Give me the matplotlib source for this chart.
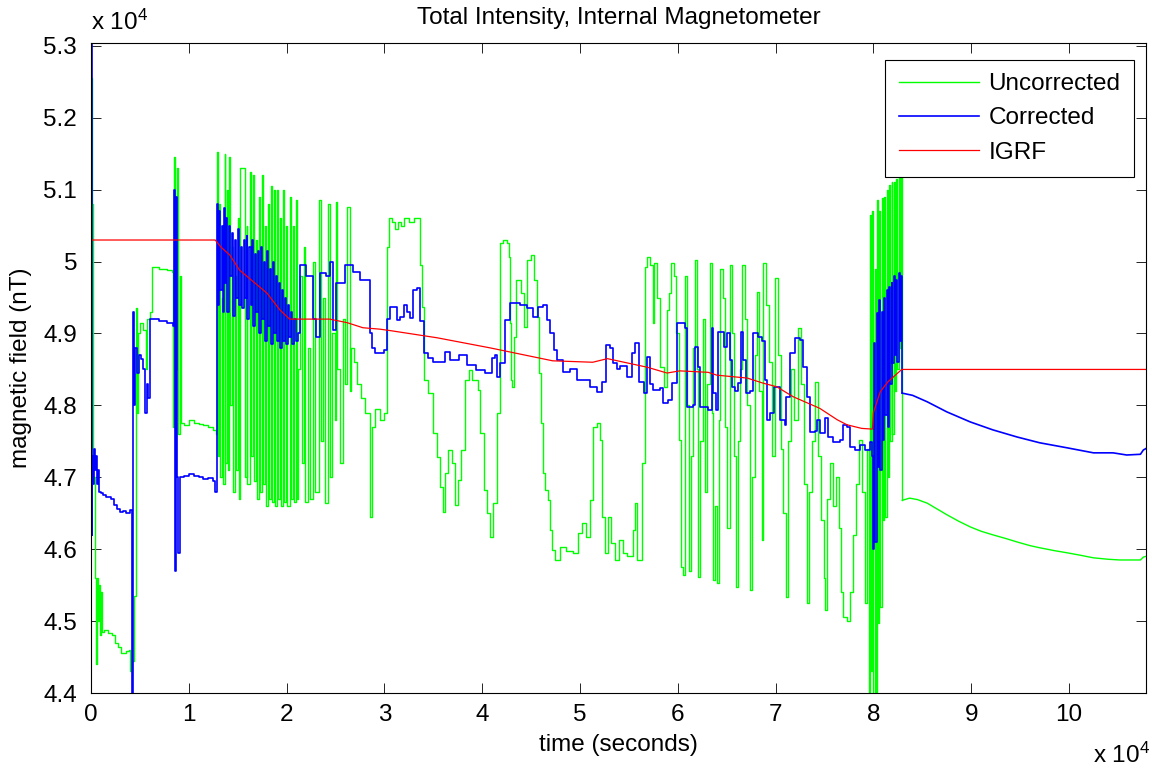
import matplotlib
matplotlib.use('Agg')
import matplotlib.pyplot as plt
import numpy as np
from matplotlib.ticker import FuncFormatter, MultipleLocator

plt.rcParams['font.family'] = ['Liberation Sans', 'DejaVu Sans']
plt.rcParams['mathtext.fontset'] = 'custom'
plt.rcParams['mathtext.rm'] = 'Liberation Sans'
plt.rcParams['mathtext.it'] = 'Liberation Sans:italic'

# time in units of 1e4 seconds, field in nT
green_t = [
    0.000, 0.004, 0.010, 0.016, 0.040, 0.050, 0.058, 0.068,
    0.078, 0.088, 0.098, 0.110, 0.130, 0.170, 0.210, 0.250,
    0.280, 0.310, 0.360, 0.390, 0.400, 0.420, 0.440, 0.455,
    0.465, 0.470, 0.480, 0.500, 0.530, 0.560, 0.570, 0.600,
    0.620, 0.700, 0.780, 0.830, 0.840, 0.850, 0.860, 0.875,
    0.890, 0.905, 0.920, 0.950, 1.000, 1.050, 1.100, 1.150,
    1.200, 1.250, 1.280,
    1.285, 1.295, 1.310, 1.320, 1.335, 1.350, 1.365, 1.375,
    1.390, 1.400, 1.415, 1.425, 1.440, 1.450, 1.470, 1.480,
    1.500, 1.510, 1.520, 1.575, 1.590, 1.600, 1.625, 1.640,
    1.655, 1.670, 1.690, 1.700, 1.720, 1.730, 1.745, 1.755,
    1.775, 1.790, 1.810, 1.820, 1.845, 1.855, 1.870, 1.880,
    1.900, 1.910, 1.930, 1.940, 1.965, 1.975, 1.990, 2.000,
    2.035, 2.045, 2.070, 2.080, 2.100, 2.110,
    2.120, 2.140, 2.160, 2.180, 2.190, 2.220, 2.240, 2.270,
    2.290, 2.330, 2.350, 2.370, 2.390, 2.420, 2.440, 2.460,
    2.490, 2.500, 2.520, 2.550, 2.580, 2.600, 2.620, 2.645,
    2.660, 2.690, 2.720, 2.760, 2.800, 2.850, 2.870, 2.900,
    2.950, 3.000, 3.030, 3.050, 3.080, 3.110, 3.140, 3.170,
    3.200, 3.250, 3.300,
    3.360, 3.380, 3.400, 3.450, 3.500, 3.540, 3.570, 3.600,
    3.620, 3.650, 3.690, 3.720, 3.750, 3.780, 3.820, 3.860,
    3.900, 3.960, 3.980, 4.020, 4.050, 4.080, 4.110, 4.150,
    4.180, 4.210, 4.250, 4.270, 4.280, 4.290, 4.300, 4.320,
    4.350, 4.400, 4.430, 4.460, 4.500, 4.530, 4.560, 4.580,
    4.600, 4.620, 4.640, 4.670, 4.690, 4.710, 4.740, 4.800,
    4.860, 4.930, 4.980, 5.020, 5.060, 5.100, 5.130, 5.170,
    5.200, 5.220, 5.260, 5.290, 5.320, 5.360, 5.400, 5.440,
    5.480, 5.540, 5.560, 5.580, 5.630, 5.660, 5.690, 5.720,
    5.745, 5.760, 5.790, 5.820, 5.860, 5.890, 5.910, 5.930,
    5.960, 5.980, 6.010, 6.030,
    6.050, 6.070, 6.090, 6.110, 6.130, 6.160, 6.180, 6.200,
    6.210, 6.230, 6.260, 6.280, 6.300, 6.330, 6.350, 6.360,
    6.380, 6.400, 6.420, 6.430, 6.460, 6.480, 6.500, 6.530,
    6.550, 6.570, 6.600, 6.620, 6.640, 6.660, 6.690, 6.710,
    6.740, 6.760, 6.790, 6.810, 6.830, 6.860, 6.870, 6.900,
    6.930, 6.960, 6.990, 7.020, 7.050, 7.080, 7.110, 7.130,
    7.160, 7.190, 7.230, 7.260, 7.290, 7.320, 7.340, 7.370,
    7.400, 7.430, 7.460, 7.490, 7.510, 7.530, 7.560, 7.590,
    7.620, 7.650, 7.670, 7.690, 7.730, 7.760, 7.790, 7.820,
    7.850, 7.880, 7.910, 7.930,
    7.950, 7.965, 7.975, 7.990, 8.000, 8.015, 8.025, 8.040,
    8.050, 8.060, 8.070, 8.085, 8.095, 8.110, 8.120, 8.135,
    8.145, 8.160, 8.170, 8.185, 8.195, 8.210, 8.220, 8.235,
    8.245, 8.260, 8.270, 8.285, 8.295,
    8.370, 8.450, 8.550, 8.650, 8.750, 8.870, 8.990, 9.100,
    9.220, 9.350, 9.470, 9.600, 9.700, 9.850, 9.980, 10.100,
    10.250, 10.400, 10.520, 10.650, 10.730, 10.760, 10.787,
]
green_b = [
    51000, 52550, 50800, 47000, 45600, 44400, 45600, 45000,
    45500, 44800, 45400, 44850, 44870, 44830, 44800, 44700,
    44640, 44560, 44580, 44600, 44300, 44450, 45350, 45400,
    49350, 47900, 49000, 49150, 49050, 48500, 49200, 49300,
    49930, 49900, 49880, 49850, 47700, 51450, 48500, 51300,
    47600, 49800, 47750, 47730, 47800, 47760, 47740, 47730,
    47700, 47660, 47600,
    51520, 47300, 50800, 47000, 49500, 46900, 51500, 47200,
    51000, 47100, 51450, 48000, 50200, 46800, 49800, 47100,
    50600, 46700, 51300, 47000, 50500, 46900, 51250, 47300,
    51200, 46950, 50300, 46700, 50900, 46800, 51200, 46900,
    50500, 46600, 50800, 46700, 51050, 46650, 51000, 46600,
    51000, 46700, 50600, 46600, 51000, 46650, 50500, 46600,
    50900, 46700, 50500, 46650, 50860, 46700,
    48500, 49800, 47200, 50200, 46650, 48800, 46700, 50000,
    46800, 50850, 47500, 49500, 46640, 50800, 47000, 49000,
    47800, 50830, 48500, 47200, 49200, 48300, 50760, 48200,
    48800, 48600, 48300, 48100, 47900, 46450, 47700, 47950,
    47800, 47900, 50200, 50600, 50550, 50450, 50550, 50500,
    50600, 50550, 50600,
    49950, 49370, 48350, 48170, 47620, 47280, 46870, 46520,
    47060, 47380, 47200, 46610, 46960, 47380, 48350, 48490,
    48350, 48210, 47620, 46820, 46500, 46170, 46640, 47890,
    50260, 50300, 50260, 50060, 49150, 48350, 48260, 48950,
    49750, 49560, 49090, 50020, 50090, 49750, 49230, 48450,
    47760, 47060, 46820, 46680, 46270, 45990, 45850, 46030,
    45970, 45950, 46230, 46360, 46170, 46680, 47700, 47760,
    47520, 46450, 45950, 46450, 46090, 45850, 46130, 45950,
    45900, 46270, 46640, 45850, 47200, 49920, 50060, 49950,
    49150, 49980, 49500, 48530, 48260, 49330, 49560, 49980,
    49800, 49000, 47520, 45750,
    45640, 49800, 48000, 45700, 47300, 48800, 50020, 48500,
    45610, 47500, 49200, 46800, 48300, 49980, 47900, 45570,
    46600, 45530, 47800, 49900, 49500, 47700, 46300, 49950,
    49000, 47300, 45470, 47500, 48500, 49950, 49200, 48000,
    45430, 47000, 48700, 49580, 48200, 46130, 49980, 49400,
    48600, 47300, 49770, 48700, 47400, 46500, 45330, 47500,
    48500, 47800, 49070, 48300, 46900, 45250, 46800, 47500,
    48330, 47300, 46400, 45600, 45150, 46700, 47200, 46600,
    47000, 46300, 45400, 45060, 45000, 45400, 46200, 46900,
    47520, 46800, 45250, 47400,
    43900, 50650, 44300, 50700, 43900, 49900, 43900, 50850,
    44970, 50700, 45200, 50880, 46400, 50900, 46450, 51000,
    47000, 51070, 47500, 51100, 47600, 51110, 48200, 51150,
    48500, 51180, 48800, 51200, 46680,
    46710, 46690, 46640, 46560, 46480, 46390, 46310, 46250,
    46200, 46150, 46100, 46050, 46020, 45980, 45950, 45920,
    45880, 45860, 45850, 45850, 45850, 45890, 45900,
]

blue_t = [
    0.000, 0.006, 0.012, 0.020, 0.030, 0.040, 0.050, 0.060,
    0.070, 0.080, 0.100, 0.120, 0.150, 0.200, 0.240, 0.270,
    0.300, 0.330, 0.360, 0.400, 0.420, 0.430, 0.440, 0.450,
    0.470, 0.490, 0.510, 0.530, 0.550, 0.570, 0.580, 0.600,
    0.700, 0.780, 0.840, 0.850, 0.860, 0.870, 0.880, 0.890,
    0.905, 0.950, 1.000, 1.050, 1.100, 1.150, 1.200, 1.250,
    1.270,
    1.285, 1.300, 1.310, 1.320, 1.335, 1.345, 1.360, 1.370,
    1.385, 1.395, 1.410, 1.420, 1.440, 1.450, 1.470, 1.480,
    1.500, 1.510, 1.530, 1.545, 1.560, 1.570, 1.590, 1.600,
    1.620, 1.635, 1.650, 1.660, 1.680, 1.690, 1.710, 1.720,
    1.740, 1.750, 1.770, 1.780, 1.800, 1.810, 1.830, 1.840,
    1.860, 1.870, 1.890, 1.900, 1.920, 1.930, 1.950, 1.960,
    1.980, 1.990, 2.010, 2.020, 2.040, 2.060, 2.080, 2.100,
    2.120, 2.140, 2.200, 2.270, 2.300, 2.340, 2.400, 2.440,
    2.470, 2.500, 2.600, 2.680, 2.750, 2.820, 2.850, 2.870,
    2.900, 3.000, 3.030, 3.060, 3.100, 3.130, 3.160, 3.200,
    3.230, 3.260, 3.296, 3.330, 3.364, 3.400, 3.450, 3.500,
    3.620, 3.670, 3.760, 3.840, 3.940, 4.030, 4.100, 4.130,
    4.155, 4.180, 4.230, 4.280, 4.390, 4.455, 4.520, 4.570,
    4.625, 4.660, 4.690, 4.730, 4.760, 4.830, 4.900, 4.970,
    5.030, 5.100, 5.170, 5.220, 5.270, 5.310, 5.340, 5.375,
    5.410, 5.480, 5.530, 5.560, 5.600, 5.650, 5.680, 5.715,
    5.750, 5.820, 5.850, 5.900, 5.940, 5.990,
    6.070, 6.090, 6.160, 6.180, 6.210, 6.230, 6.280, 6.310,
    6.350, 6.360, 6.390, 6.410, 6.470, 6.500, 6.530, 6.550,
    6.580, 6.620, 6.650, 6.670, 6.700, 6.740, 6.770, 6.820,
    6.860, 6.890, 6.910, 6.940, 6.980, 7.040, 7.100, 7.110,
    7.150, 7.200, 7.250, 7.280, 7.320, 7.350, 7.400, 7.420,
    7.450, 7.500, 7.540, 7.590, 7.660, 7.690, 7.730, 7.760,
    7.810, 7.860, 7.910, 7.970,
    7.990, 8.000, 8.010, 8.020, 8.035, 8.045, 8.060, 8.070,
    8.085, 8.095, 8.110, 8.120, 8.135, 8.145, 8.160, 8.170,
    8.185, 8.195, 8.210, 8.220, 8.235, 8.245, 8.260, 8.270,
    8.285, 8.295,
    8.400, 8.550, 8.750, 8.990, 9.220, 9.470, 9.700, 9.980,
    10.250, 10.450, 10.590, 10.730, 10.760, 10.787,
]
blue_b = [
    53500, 46200, 47300, 46900, 47400, 47100, 47300, 46900,
    47100, 46800, 46780, 46750, 46720, 46700, 46620, 46560,
    46520, 46530, 46500, 46550, 43900, 49300, 48000, 48800,
    48450, 48700, 48650, 48500, 47900, 48300, 48100, 49200,
    49170, 49150, 49100, 51000, 45700, 50900, 47000, 45950,
    47000, 47020, 47050, 47020, 47000, 46980, 46990, 46950,
    46800,
    50800, 49400, 50700, 49600, 50500, 49300, 50750, 49700,
    50600, 49300, 50500, 49800, 50400, 49250, 50300, 49500,
    50450, 49400, 50200, 49350, 50300, 49500, 50350, 49200,
    50200, 49400, 50300, 49100, 50100, 49300, 50150, 49000,
    50200, 49200, 50000, 48900, 50150, 49100, 49900, 48850,
    50000, 49000, 49800, 48900, 49700, 48800, 49600, 48900,
    49500, 48850, 49400, 48950, 49300, 48850, 49200, 48900,
    49000, 49950, 49800, 49200, 48950, 49840, 49800, 50000,
    49050, 49700, 49950, 49850, 49740, 49740, 49000, 48800,
    48730, 48770, 49200, 49370, 49370, 49190, 49230, 49400,
    49300, 49220, 49600, 49630, 49170, 48730, 48660, 48600,
    48740, 48630, 48700, 48560, 48490, 48450, 48660, 48700,
    48400, 48590, 49190, 49420, 49400, 49350, 49230, 49370,
    49400, 49190, 49000, 48770, 48630, 48460, 48500, 48350,
    48350, 48260, 48190, 48330, 48840, 48800, 48590, 48500,
    48550, 48400, 48730, 48870, 48330, 48170, 48670, 48300,
    48210, 48240, 48030, 48080, 48310, 49150,
    49080, 47980, 48000, 48810, 48530, 47980, 47980, 47940,
    49080, 48170, 47940, 49020, 48810, 49000, 48630, 48260,
    48200, 48310, 49020, 48630, 48170, 48200, 49000, 48950,
    48900, 48350, 47800, 47900, 48260, 47800, 47730, 48120,
    48730, 48940, 48910, 48530, 48120, 47630, 47650, 47800,
    47620, 47820, 47560, 47490, 47520, 47730, 47700, 47420,
    47380, 47450, 47380, 47490,
    47300, 46000, 48870, 46100, 49290, 47140, 49470, 47100,
    49300, 47520, 49500, 47870, 49600, 47700, 49650, 48300,
    49700, 48590, 49800, 48700, 49750, 48600, 49840, 48900,
    49800, 48170,
    48140, 48050, 47910, 47770, 47660, 47560, 47480, 47410,
    47340, 47340, 47310, 47320, 47380, 47400,
]

igrf_t = [0.00, 1.27, 1.33, 1.42, 1.52, 1.66, 1.80, 1.93, 2.03, 2.44,
          2.62, 2.78, 2.955, 3.06, 3.54, 4.08, 4.72, 5.13, 5.28, 5.69,
          5.89, 6.02, 6.31, 6.40, 6.71, 6.87, 7.01, 7.18, 7.45, 7.63,
          7.73, 7.88, 7.99, 8.00, 8.07, 8.15, 8.29, 10.787]
igrf_b = [50300, 50300, 50200, 50090, 49880, 49720, 49560, 49330, 49200, 49200,
          49150, 49080, 49060, 49040, 48940, 48800, 48620, 48600, 48650, 48530,
          48450, 48480, 48460, 48420, 48380, 48310, 48260, 48120, 47960, 47800,
          47730, 47680, 47670, 47900, 48190, 48330, 48500, 48500]

# after this time both sensor traces settle into a smooth drift
t_settle = 8.295

fs = 17.5


def draw_trace(t, b, color, lw, label):
    t = np.array(t)
    b = np.array(b)
    k = int(np.searchsorted(t, t_settle))
    ax.plot(t[:k + 1] * 1e4, b[:k + 1], color=color, lw=lw,
            drawstyle='steps-post', label=label)
    ax.plot(t[k:] * 1e4, b[k:], color=color, lw=lw)


fig = plt.figure(figsize=(11.52, 7.71), dpi=100)
ax = fig.add_axes([91 / 1152, 1 - 693 / 771, 1055 / 1152, 650 / 771])

draw_trace(green_t, green_b, '#00ff00', 1.0, 'Uncorrected')
draw_trace(blue_t, blue_b, '#0000ff', 1.2, 'Corrected')
ax.plot(np.array(igrf_t) * 1e4, igrf_b, color='#ff0000', lw=0.9, label='IGRF')

ax.set_xlim(0, 107870)
ax.set_ylim(44000, 53040)
ax.xaxis.set_major_locator(MultipleLocator(10000))
ax.yaxis.set_major_locator(MultipleLocator(1000))
fmt = FuncFormatter(lambda v, p: '%g' % round(v / 1e4, 3))
ax.xaxis.set_major_formatter(fmt)
ax.yaxis.set_major_formatter(fmt)

ax.tick_params(direction='in', top=True, right=True, length=7, width=0.6,
               labelsize=fs)
ax.tick_params(axis='x', pad=8)
ax.tick_params(axis='y', pad=10)
for s in ax.spines.values():
    s.set_linewidth(0.8)

ax.set_title('Total Intensity, Internal Magnetometer', fontsize=fs, pad=14)
ax.set_xlabel('time (seconds)', fontsize=fs, labelpad=6)
ax.set_ylabel('magnetic field (nT)', fontsize=fs, labelpad=8)

ax.text(0, 1.02, r'x 10$^{4}$', transform=ax.transAxes, fontsize=fs,
        ha='left', va='baseline')
ax.text(1.004, -0.108, r'x 10$^{4}$', transform=ax.transAxes, fontsize=fs,
        ha='right', va='baseline')

handles, labels = ax.get_legend_handles_labels()
leg = ax.legend(handles, labels, loc='upper right',
                bbox_to_anchor=(0.9886, 0.974), borderaxespad=0, fontsize=fs,
                fancybox=False, framealpha=1, edgecolor='black',
                handlelength=3.3, handletextpad=0.4, labelspacing=0.5,
                borderpad=0.55)
leg.get_frame().set_linewidth(0.8)

fig.savefig('out.png', dpi=100, facecolor='white')
